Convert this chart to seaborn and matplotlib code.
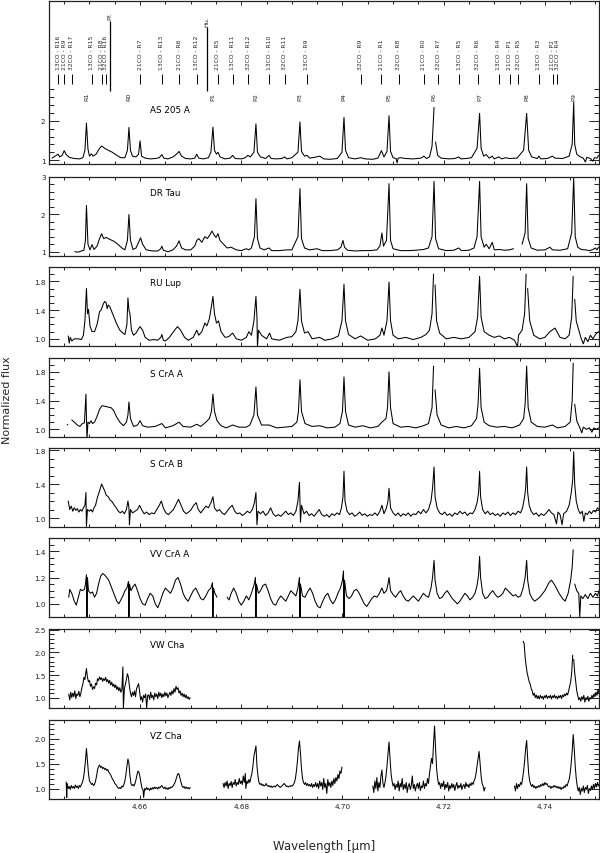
import numpy as np
import pandas as pd
import seaborn as sns
import matplotlib.pyplot as plt
from matplotlib.ticker import FixedLocator, MultipleLocator, FormatStrFormatter

# ---- line identifications (top panel) ----
line_names = ["13CO - R16", "21CO - R9", "32CO - R17", "13CO - R15", "21CO - R8", "32CO - R16",
              "21CO - R7", "13CO - R13", "21CO - R6", "13CO - R12", "21CO - R5", "13CO - R11",
              "32CO - R12", "13CO - R10", "32CO - R11", "13CO - R9", "32CO - R9", "21CO - R1",
              "32CO - R8", "21CO - R0", "32CO - R7", "13CO - R5", "32CO - R6", "13CO - R4",
              "21CO - P1", "32CO - R5", "13CO - R3", "21CO - P2", "32CO - R4"]
line_wl = [4.6438, 4.6450, 4.6465, 4.6504, 4.6524, 4.6532,
           4.6600, 4.6643, 4.6677, 4.6712, 4.6754, 4.6783,
           4.6814, 4.6855, 4.6886, 4.6929, 4.7036, 4.7077,
           4.7111, 4.7161, 4.7189, 4.7231, 4.7267, 4.7309,
           4.7331, 4.7347, 4.7388, 4.7416, 4.7424]
co_names = ["R1", "R0", "P1", "P2", "P3", "P4", "P5", "P6", "P7", "P8", "P9"]
co_wl = [4.6494, 4.6578, 4.6744, 4.6829, 4.6916, 4.7003, 4.7092, 4.7181, 4.7271, 4.7364, 4.7457]
hi_names = ["Pf.", "Hu."]
hi_wl = [4.6541, 4.6732]

# ---- spectra: (wavelength, flux); None marks a gap ----
as205a = [(4.6426, 1.05), (4.6432, 1.10), (4.6438, 1.15), (4.6441, 1.08), (4.6446, 1.12), (4.6450, 1.24),
          (4.6454, 1.14), (4.6460, 1.07), (4.6470, 1.04), (4.6480, 1.03), (4.6487, 1.06), (4.6491, 1.25),
          (4.6494, 1.94), (4.6497, 1.28), (4.6500, 1.10), (4.6504, 1.16), (4.6507, 1.10), (4.6513, 1.15),
          (4.6519, 1.28), (4.6524, 1.36), (4.6530, 1.30), (4.6537, 1.25), (4.6545, 1.20), (4.6553, 1.13),
          (4.6562, 1.06), (4.6570, 1.06), (4.6575, 1.25), (4.6578, 1.83), (4.6581, 1.25), (4.6585, 1.10),
          (4.6592, 1.08), (4.6597, 1.15), (4.6600, 1.49), (4.6603, 1.10), (4.6610, 1.05), (4.6620, 1.03),
          (4.6630, 1.04), (4.6638, 1.06), (4.6643, 1.14), (4.6647, 1.05), (4.6655, 1.03), (4.6665, 1.08),
          (4.6672, 1.15), (4.6677, 1.22), (4.6682, 1.10), (4.6690, 1.04), (4.6700, 1.03), (4.6708, 1.05),
          (4.6712, 1.15), (4.6716, 1.05), (4.6725, 1.03), (4.6735, 1.06), (4.6740, 1.20), (4.6744, 1.84),
          (4.6747, 1.25), (4.6751, 1.15), (4.6754, 1.20), (4.6758, 1.08), (4.6768, 1.03), (4.6778, 1.05),
          (4.6783, 1.12), (4.6788, 1.04), (4.6800, 1.03), (4.6808, 1.06), (4.6813, 1.12), (4.6818, 1.08),
          (4.6825, 1.20), (4.6829, 1.92), (4.6832, 1.20), (4.6838, 1.08), (4.6848, 1.04), (4.6855, 1.12),
          (4.6859, 1.04), (4.6870, 1.03), (4.6880, 1.04), (4.6886, 1.08), (4.6890, 1.03), (4.6900, 1.06),
          (4.6912, 1.20), (4.6916, 1.97), (4.6919, 1.22), (4.6925, 1.10), (4.6930, 1.12), (4.6935, 1.05),
          (4.6945, 1.07), (4.6955, 1.10), (4.6963, 1.03), (4.6975, 1.02), (4.6990, 1.04), (4.6999, 1.20),
          (4.7003, 2.09), (4.7006, 1.25), (4.7012, 1.06), (4.7025, 1.03), (4.7036, 1.06), (4.7045, 1.03),
          (4.7060, 1.02), (4.7070, 1.05), (4.7077, 1.24), (4.7082, 1.08), (4.7088, 1.22), (4.7092, 2.13),
          (4.7095, 1.22), (4.7100, 1.06), (4.7106, 1.04), (4.7108, 0.93), (4.7110, 1.05), (4.7115, 1.06),
          (4.7125, 1.04), (4.7140, 1.03), (4.7155, 1.05), (4.7161, 1.10), (4.7166, 1.04), (4.7172, 1.08),
          (4.7177, 1.35), (4.7181, 2.34), None,
          (4.7184, 1.46), (4.7188, 1.12), (4.7195, 1.05), (4.7210, 1.03), (4.7222, 1.04), (4.7230, 1.08),
          (4.7234, 1.03), (4.7245, 1.04), (4.7255, 1.06), (4.7266, 1.30), (4.7271, 2.19), (4.7274, 1.30),
          (4.7279, 1.10), (4.7284, 1.14), (4.7290, 1.05), (4.7296, 1.10), (4.7300, 1.03), (4.7309, 1.08),
          (4.7315, 1.03), (4.7322, 1.06), (4.7330, 1.04), (4.7345, 1.05), (4.7358, 1.25), (4.7364, 2.19),
          (4.7368, 1.25), (4.7374, 1.08), (4.7385, 1.04), (4.7388, 1.10), (4.7392, 1.03), (4.7405, 1.04),
          (4.7415, 1.10), (4.7420, 1.05), (4.7435, 1.04), (4.7448, 1.10), (4.7454, 1.40), (4.7457, 2.47),
          (4.7459, 1.40), (4.7463, 1.15), (4.7470, 1.08), (4.7476, 1.05), (4.7480, 0.95), (4.7483, 1.07),
          (4.7490, 1.04), (4.7495, 0.97), (4.7498, 1.06), (4.7503, 1.05), (4.7506, 1.12)]

dr_tau = [(4.6471, 1.00), (4.6478, 0.99), (4.6484, 1.02), (4.6489, 1.04), (4.6492, 1.30), (4.6494, 2.23),
          (4.6497, 1.20), (4.6501, 1.05), (4.6505, 1.19), (4.6509, 1.06), (4.6515, 1.15), (4.6520, 1.35),
          (4.6524, 1.48), (4.6528, 1.35), (4.6533, 1.38), (4.6540, 1.33), (4.6548, 1.28), (4.6556, 1.20),
          (4.6564, 1.10), (4.6570, 1.05), (4.6575, 1.30), (4.6578, 1.99), (4.6581, 1.30), (4.6586, 1.06),
          (4.6592, 1.10), (4.6597, 1.25), (4.6601, 1.37), (4.6605, 1.20), (4.6612, 1.05), (4.6625, 1.02),
          (4.6635, 1.02), (4.6641, 1.08), (4.6643, 1.15), (4.6646, 1.04), (4.6655, 1.00), (4.6665, 1.05),
          (4.6672, 1.15), (4.6677, 1.29), (4.6682, 1.10), (4.6690, 1.05), (4.6700, 1.05), (4.6708, 1.15),
          (4.6712, 1.30), (4.6716, 1.35), (4.6722, 1.25), (4.6728, 1.40), (4.6733, 1.35), (4.6738, 1.45),
          (4.6742, 1.55), (4.6746, 1.45), (4.6750, 1.38), (4.6754, 1.48), (4.6758, 1.30), (4.6765, 1.20),
          (4.6772, 1.10), (4.6780, 1.12), (4.6790, 1.05), (4.6800, 1.03), (4.6810, 1.08), (4.6815, 1.05),
          (4.6820, 1.10), (4.6826, 1.40), (4.6829, 2.41), (4.6832, 1.35), (4.6837, 1.10), (4.6845, 1.05),
          (4.6855, 1.10), (4.6860, 1.03), (4.6875, 1.03), (4.6890, 1.05), (4.6900, 1.05), (4.6912, 1.40),
          (4.6916, 2.68), (4.6919, 1.35), (4.6925, 1.10), (4.6935, 1.05), (4.6950, 1.08), (4.6960, 1.03),
          (4.6975, 1.03), (4.6990, 1.05), (4.6997, 1.12), (4.7001, 1.30), (4.7004, 1.12), (4.7010, 1.04),
          (4.7025, 1.02), (4.7040, 1.03), (4.7055, 1.03), (4.7068, 1.05), (4.7074, 1.15), (4.7078, 1.50),
          (4.7081, 1.15), (4.7087, 1.30), (4.7092, 2.81), (4.7095, 1.30), (4.7100, 1.08), (4.7115, 1.03),
          (4.7130, 1.03), (4.7145, 1.04), (4.7160, 1.06), (4.7170, 1.10), (4.7177, 1.40), (4.7181, 2.87),
          (4.7184, 1.35), (4.7190, 1.08), (4.7205, 1.03), (4.7220, 1.04), (4.7230, 1.10), (4.7235, 1.03),
          (4.7250, 1.04), (4.7260, 1.10), (4.7266, 1.40), (4.7271, 2.87), (4.7274, 1.40), (4.7280, 1.12),
          (4.7284, 1.20), (4.7290, 1.08), (4.7296, 1.25), (4.7300, 1.05), (4.7310, 1.06), (4.7320, 1.04),
          (4.7330, 1.05), (4.7338, 1.08), None,
          (4.7355, 1.20), (4.7361, 1.50), (4.7364, 2.81), (4.7367, 1.35), (4.7373, 1.10), (4.7385, 1.04),
          (4.7400, 1.05), (4.7410, 1.12), (4.7415, 1.05), (4.7430, 1.04), (4.7445, 1.08), (4.7453, 1.50),
          (4.7457, 2.97), (4.7460, 1.40), (4.7465, 1.12), (4.7472, 1.06), (4.7480, 1.05), (4.7488, 1.03),
          (4.7495, 1.06), (4.7500, 1.10), (4.7503, 1.05), (4.7506, 1.12)]

ru_lup = [(4.6458, 1.04), (4.6460, 0.94), (4.6462, 1.02), (4.6465, 0.97), (4.6470, 1.00), (4.6478, 1.00),
          (4.6484, 0.99), (4.6488, 1.05), (4.6491, 1.25), (4.6494, 1.70), (4.6496, 1.35), (4.6498, 1.41),
          (4.6501, 1.18), (4.6505, 1.10), (4.6510, 1.10), (4.6515, 1.20), (4.6520, 1.38), (4.6523, 1.40),
          (4.6527, 1.48), (4.6530, 1.52), (4.6533, 1.50), (4.6535, 1.42), (4.6537, 1.47), (4.6540, 1.45),
          (4.6544, 1.38), (4.6548, 1.31), (4.6553, 1.22), (4.6560, 1.12), (4.6566, 1.08), (4.6570, 1.06),
          (4.6574, 1.20), (4.6576, 1.57), (4.6578, 1.40), (4.6580, 1.35), (4.6583, 1.12), (4.6587, 1.05),
          (4.6592, 1.08), (4.6597, 1.14), (4.6600, 1.17), (4.6605, 1.12), (4.6610, 1.02), (4.6618, 0.98),
          (4.6628, 0.99), (4.6635, 0.98), (4.6641, 1.02), (4.6643, 1.06), (4.6646, 0.98), (4.6650, 0.97),
          (4.6658, 1.02), (4.6666, 1.10), (4.6674, 1.17), (4.6680, 1.12), (4.6688, 1.02), (4.6695, 0.98),
          (4.6705, 1.02), (4.6712, 1.12), (4.6716, 1.05), (4.6722, 1.10), (4.6728, 1.22), (4.6732, 1.18),
          (4.6737, 1.28), (4.6741, 1.45), (4.6744, 1.59), (4.6747, 1.35), (4.6751, 1.22), (4.6755, 1.25),
          (4.6760, 1.10), (4.6768, 1.02), (4.6775, 1.03), (4.6783, 1.08), (4.6790, 1.00), (4.6800, 0.98),
          (4.6810, 1.02), (4.6815, 1.10), (4.6820, 1.05), (4.6825, 1.25), (4.6829, 1.59), (4.6831, 1.30),
          (4.6832, 0.89), (4.6834, 1.12), (4.6840, 1.05), (4.6850, 1.00), (4.6856, 1.08), (4.6860, 1.00),
          (4.6875, 0.98), (4.6890, 1.02), (4.6900, 1.03), (4.6908, 1.10), (4.6912, 1.25), (4.6916, 1.69),
          (4.6919, 1.25), (4.6925, 1.08), (4.6932, 1.10), (4.6940, 1.00), (4.6955, 1.02), (4.6965, 0.98),
          (4.6980, 1.00), (4.6992, 1.04), (4.6999, 1.25), (4.7003, 1.76), (4.7006, 1.25), (4.7012, 1.06),
          (4.7025, 1.00), (4.7036, 1.04), (4.7050, 0.98), (4.7065, 1.00), (4.7074, 1.05), (4.7078, 1.15),
          (4.7082, 1.05), (4.7088, 1.25), (4.7092, 1.79), (4.7095, 1.25), (4.7100, 1.05), (4.7110, 1.00),
          (4.7125, 1.02), (4.7140, 0.99), (4.7155, 1.02), (4.7165, 1.06), (4.7172, 1.12), (4.7177, 1.35),
          (4.7180, 1.90), None,
          (4.7183, 1.75), (4.7186, 1.25), (4.7192, 1.08), (4.7205, 1.00), (4.7220, 1.02), (4.7235, 1.00),
          (4.7250, 1.02), (4.7262, 1.10), (4.7267, 1.30), (4.7271, 1.87), (4.7274, 1.30), (4.7280, 1.10),
          (4.7290, 1.05), (4.7300, 1.02), (4.7310, 1.04), (4.7320, 1.00), (4.7330, 1.02), (4.7340, 0.98),
          (4.7346, 0.89), (4.7348, 1.05), (4.7355, 1.12), (4.7360, 1.35), (4.7363, 1.90), None,
          (4.7366, 1.70), (4.7370, 1.25), (4.7378, 1.05), (4.7390, 1.00), (4.7400, 1.02), (4.7410, 1.10),
          (4.7420, 1.15), (4.7430, 1.02), (4.7440, 1.00), (4.7448, 1.05), (4.7453, 1.30), (4.7456, 1.87), None,
          (4.7459, 1.55), (4.7462, 1.25), (4.7467, 1.12), (4.7472, 1.00), (4.7476, 0.93), (4.7480, 1.02),
          (4.7485, 0.96), (4.7490, 1.05), (4.7495, 1.00), (4.7500, 1.06), (4.7506, 1.10)]

s_cra_a = [(4.6456, 1.07), (4.6457, 1.06), None,
           (4.6465, 1.13), (4.6470, 1.10), (4.6476, 1.06), (4.6481, 1.04), (4.6486, 1.08), (4.6490, 1.09),
           (4.6493, 1.49), (4.6495, 0.86), (4.6497, 1.10), (4.6500, 1.08), (4.6503, 1.12), (4.6506, 1.08),
           (4.6510, 1.10), (4.6515, 1.18), (4.6520, 1.28), (4.6525, 1.33), (4.6531, 1.32), (4.6537, 1.31),
           (4.6543, 1.30), (4.6548, 1.26), (4.6553, 1.18), (4.6560, 1.10), (4.6567, 1.05), (4.6573, 1.10),
           (4.6576, 1.20), (4.6578, 1.38), (4.6581, 1.15), (4.6587, 1.04), (4.6595, 1.06), (4.6600, 1.12),
           (4.6605, 1.05), (4.6615, 1.03), (4.6630, 1.04), (4.6643, 1.08), (4.6650, 1.02), (4.6665, 1.05),
           (4.6677, 1.10), (4.6685, 1.04), (4.6700, 1.03), (4.6712, 1.07), (4.6720, 1.04), (4.6730, 1.10),
           (4.6737, 1.15), (4.6741, 1.25), (4.6744, 1.49), (4.6747, 1.25), (4.6752, 1.12), (4.6760, 1.05),
           (4.6770, 1.02), (4.6783, 1.06), (4.6795, 1.03), (4.6810, 1.03), (4.6817, 1.06), (4.6825, 1.20),
           (4.6829, 1.59), (4.6832, 1.20), (4.6840, 1.06), (4.6855, 1.06), (4.6870, 1.02), (4.6885, 1.03),
           (4.6900, 1.04), (4.6910, 1.10), (4.6913, 1.25), (4.6916, 1.69), (4.6919, 1.25), (4.6926, 1.08),
           (4.6940, 1.04), (4.6955, 1.05), (4.6970, 1.02), (4.6985, 1.03), (4.6995, 1.08), (4.7000, 1.25),
           (4.7003, 1.73), (4.7006, 1.25), (4.7012, 1.06), (4.7025, 1.03), (4.7040, 1.05), (4.7055, 1.02),
           (4.7070, 1.04), (4.7078, 1.10), (4.7086, 1.15), (4.7089, 1.30), (4.7092, 1.80), (4.7095, 1.30),
           (4.7100, 1.08), (4.7115, 1.03), (4.7130, 1.04), (4.7145, 1.02), (4.7160, 1.05), (4.7170, 1.08),
           (4.7177, 1.30), (4.7180, 1.88), None,
           (4.7183, 1.55), (4.7187, 1.20), (4.7195, 1.06), (4.7210, 1.02), (4.7225, 1.04), (4.7240, 1.02),
           (4.7255, 1.05), (4.7265, 1.15), (4.7268, 1.35), (4.7271, 1.85), (4.7274, 1.30), (4.7280, 1.10),
           (4.7290, 1.05), (4.7305, 1.03), (4.7320, 1.04), (4.7335, 1.02), (4.7350, 1.06), (4.7358, 1.15),
           (4.7361, 1.35), (4.7364, 1.88), (4.7367, 1.30), (4.7373, 1.10), (4.7385, 1.04), (4.7400, 1.03),
           (4.7415, 1.06), (4.7425, 1.02), (4.7440, 1.04), (4.7450, 1.10), (4.7454, 1.40), (4.7456, 1.92), None,
           (4.7459, 1.35), (4.7463, 1.12), (4.7468, 1.04), (4.7473, 0.95), (4.7476, 1.03), (4.7482, 1.00),
           (4.7488, 1.02), (4.7493, 0.96), (4.7497, 1.02), (4.7502, 1.00), (4.7506, 1.02)]

s_cra_b = [(4.6458, 1.20), (4.6461, 1.10), (4.6464, 1.14), (4.6467, 1.08), (4.6470, 1.12), (4.6473, 1.09),
           (4.6476, 1.11), (4.6479, 1.07), (4.6482, 1.10), (4.6485, 1.08), (4.6488, 1.12), (4.6491, 1.15),
           (4.6493, 1.30), (4.6494, 0.90), (4.6496, 1.10), (4.6500, 1.08), (4.6503, 1.10), (4.6506, 1.07),
           (4.6509, 1.12), (4.6512, 1.15), (4.6516, 1.25), (4.6520, 1.32), (4.6524, 1.40), (4.6527, 1.36),
           (4.6530, 1.32), (4.6533, 1.27), (4.6537, 1.25), (4.6541, 1.21), (4.6545, 1.19), (4.6549, 1.15),
           (4.6553, 1.12), (4.6557, 1.08), (4.6561, 1.06), (4.6565, 1.08), (4.6569, 1.05), (4.6573, 1.10),
           (4.6576, 1.20), (4.6578, 1.12), (4.6579, 0.92), (4.6581, 1.10), (4.6585, 1.06), (4.6590, 1.08),
           (4.6595, 1.10), (4.6599, 1.15), (4.6603, 1.10), (4.6608, 1.05), (4.6613, 1.07), (4.6618, 1.04),
           (4.6623, 1.06), (4.6628, 1.05), (4.6633, 1.10), (4.6638, 1.15), (4.6642, 1.20), (4.6646, 1.12),
           (4.6651, 1.06), (4.6656, 1.04), (4.6661, 1.07), (4.6666, 1.10), (4.6671, 1.16), (4.6676, 1.22),
           (4.6681, 1.15), (4.6686, 1.08), (4.6691, 1.05), (4.6696, 1.07), (4.6701, 1.10), (4.6706, 1.15),
           (4.6711, 1.18), (4.6715, 1.10), (4.6720, 1.06), (4.6725, 1.10), (4.6730, 1.14), (4.6735, 1.12),
           (4.6740, 1.18), (4.6744, 1.25), (4.6747, 1.12), (4.6752, 1.08), (4.6757, 1.10), (4.6762, 1.06),
           (4.6767, 1.04), (4.6772, 1.08), (4.6777, 1.12), (4.6782, 1.15), (4.6787, 1.08), (4.6792, 1.05),
           (4.6797, 1.06), (4.6802, 1.03), (4.6807, 1.05), (4.6812, 1.08), (4.6817, 1.06), (4.6822, 1.10),
           (4.6826, 1.18), (4.6829, 1.30), (4.6831, 0.92), (4.6833, 1.08), (4.6838, 1.05), (4.6843, 1.08),
           (4.6848, 1.03), (4.6853, 1.06), (4.6858, 1.12), (4.6863, 1.05), (4.6868, 1.02), (4.6873, 1.04),
           (4.6878, 1.02), (4.6883, 1.05), (4.6888, 1.08), (4.6893, 1.04), (4.6898, 1.06), (4.6903, 1.03),
           (4.6908, 1.08), (4.6912, 1.20), (4.6915, 1.42), (4.6917, 0.95), (4.6919, 1.15), (4.6924, 1.05),
           (4.6929, 1.08), (4.6934, 1.03), (4.6939, 1.05), (4.6944, 1.02), (4.6949, 1.06), (4.6954, 1.10),
           (4.6959, 1.04), (4.6964, 1.02), (4.6969, 1.04), (4.6974, 1.01), (4.6979, 1.05), (4.6984, 1.03),
           (4.6989, 1.06), (4.6994, 1.04), (4.6998, 1.12), (4.7001, 1.25), (4.7003, 1.55), (4.7005, 1.20),
           (4.7009, 1.08), (4.7014, 1.04), (4.7019, 1.06), (4.7024, 1.02), (4.7029, 1.04), (4.7034, 1.07),
           (4.7039, 1.03), (4.7044, 1.05), (4.7049, 1.02), (4.7054, 1.04), (4.7059, 1.03), (4.7064, 1.06),
           (4.7069, 1.03), (4.7074, 1.08), (4.7078, 1.15), (4.7082, 1.05), (4.7087, 1.12), (4.7090, 1.20),
           (4.7092, 1.35), (4.7095, 1.12), (4.7100, 1.06), (4.7105, 1.03), (4.7110, 1.06), (4.7115, 1.02),
           (4.7120, 1.05), (4.7125, 1.03), (4.7130, 1.06), (4.7135, 1.02), (4.7140, 1.05), (4.7145, 1.04),
           (4.7150, 1.08), (4.7155, 1.05), (4.7160, 1.10), (4.7165, 1.06), (4.7170, 1.10), (4.7175, 1.20),
           (4.7178, 1.35), (4.7181, 1.60), (4.7183, 1.25), (4.7187, 1.12), (4.7192, 1.06), (4.7197, 1.04),
           (4.7202, 1.07), (4.7207, 1.03), (4.7212, 1.05), (4.7217, 1.02), (4.7222, 1.06), (4.7227, 1.04),
           (4.7232, 1.08), (4.7237, 1.05), (4.7242, 1.07), (4.7247, 1.03), (4.7252, 1.06), (4.7257, 1.05),
           (4.7262, 1.10), (4.7266, 1.18), (4.7269, 1.30), (4.7271, 1.55), (4.7273, 1.25), (4.7277, 1.10),
           (4.7282, 1.05), (4.7287, 1.08), (4.7292, 1.04), (4.7297, 1.06), (4.7302, 1.03), (4.7307, 1.05),
           (4.7312, 1.02), (4.7317, 1.06), (4.7322, 1.04), (4.7327, 1.07), (4.7332, 1.03), (4.7337, 1.06),
           (4.7342, 1.04), (4.7347, 1.08), (4.7352, 1.06), (4.7356, 1.12), (4.7360, 1.25), (4.7362, 1.35),
           (4.7364, 1.60), (4.7366, 1.30), (4.7369, 1.15), (4.7373, 1.08), (4.7378, 1.04), (4.7383, 1.06),
           (4.7388, 1.02), (4.7393, 1.05), (4.7398, 1.03), (4.7403, 1.06), (4.7408, 1.10), (4.7413, 1.06),
           (4.7418, 1.04), (4.7423, 0.93), (4.7426, 1.07), (4.7430, 1.04), (4.7434, 0.92), (4.7437, 1.05),
           (4.7443, 1.08), (4.7448, 1.15), (4.7452, 1.29), (4.7455, 1.45), (4.7457, 1.78), (4.7459, 1.40),
           (4.7462, 1.20), (4.7466, 1.10), (4.7470, 1.05), (4.7474, 1.08), (4.7477, 0.96), (4.7480, 1.06),
           (4.7484, 1.04), (4.7488, 1.08), (4.7492, 1.05), (4.7496, 1.09), (4.7500, 1.07), (4.7504, 1.12),
           (4.7507, 1.10)]

vv_cra_a = [(4.6459, 1.05), (4.6461, 1.11), (4.6465, 1.08), (4.6470, 1.02), (4.6474, 0.99), (4.6478, 1.05),
            (4.6482, 1.11), (4.6486, 1.10), (4.6490, 1.11), (4.6492, 1.15), (4.6494, 1.22), (4.6495, 0.90),
            (4.6496, 1.20), (4.6498, 1.10), (4.6502, 1.08), (4.6506, 1.09), (4.6510, 1.05), (4.6514, 1.08),
            (4.6518, 1.15), (4.6522, 1.21), (4.6526, 1.23), (4.6530, 1.22), (4.6534, 1.20), (4.6538, 1.18),
            (4.6542, 1.14), (4.6546, 1.10), (4.6550, 1.06), (4.6554, 1.02), (4.6558, 1.00), (4.6562, 1.03),
            (4.6566, 1.06), (4.6570, 1.10), (4.6574, 1.12), (4.6577, 1.17), (4.6578, 0.90), (4.6579, 1.15),
            (4.6582, 1.10), (4.6586, 1.13), (4.6590, 1.15), (4.6595, 1.10), (4.6600, 1.04), (4.6605, 1.00),
            (4.6610, 0.99), (4.6615, 1.04), (4.6620, 1.08), (4.6625, 1.06), (4.6630, 1.00), (4.6635, 0.97),
            (4.6640, 1.02), (4.6645, 1.08), (4.6650, 1.12), (4.6655, 1.10), (4.6660, 1.08), (4.6665, 1.12),
            (4.6670, 1.18), (4.6675, 1.20), (4.6680, 1.15), (4.6685, 1.08), (4.6690, 1.04), (4.6695, 1.02),
            (4.6700, 1.06), (4.6705, 1.10), (4.6710, 1.12), (4.6715, 1.08), (4.6720, 1.04), (4.6725, 1.03),
            (4.6730, 1.06), (4.6735, 1.10), (4.6740, 1.12), (4.6743, 1.16), (4.6744, 0.90), (4.6745, 1.12),
            (4.6748, 1.08), (4.6752, 1.05), None,
            (4.6772, 1.05), (4.6776, 1.03), (4.6780, 1.08), (4.6785, 1.12), (4.6790, 1.08), (4.6795, 1.02),
            (4.6800, 0.99), (4.6805, 1.02), (4.6810, 1.06), (4.6815, 1.03), (4.6820, 1.08), (4.6825, 1.14),
            (4.6828, 1.20), (4.6829, 0.90), (4.6830, 1.15), (4.6834, 1.08), (4.6838, 1.10), (4.6843, 1.14),
            (4.6848, 1.15), (4.6853, 1.10), (4.6858, 1.04), (4.6863, 1.00), (4.6868, 0.99), (4.6873, 1.03),
            (4.6878, 1.06), (4.6883, 1.04), (4.6888, 1.02), (4.6893, 1.06), (4.6898, 1.10), (4.6903, 1.08),
            (4.6908, 1.06), (4.6912, 1.12), (4.6915, 1.20), (4.6916, 0.90), (4.6917, 1.15), (4.6921, 1.06),
            (4.6926, 1.05), (4.6931, 1.09), (4.6936, 1.12), (4.6941, 1.08), (4.6946, 1.02), (4.6951, 0.98),
            (4.6956, 0.97), (4.6961, 1.02), (4.6966, 1.06), (4.6971, 1.08), (4.6976, 1.03), (4.6981, 1.00),
            (4.6986, 1.03), (4.6991, 1.08), (4.6996, 1.12), (4.7000, 1.18), (4.7002, 1.25), (4.7003, 0.90),
            (4.7004, 1.18), (4.7008, 1.06), (4.7013, 1.04), (4.7018, 1.06), (4.7023, 1.10), (4.7028, 1.11),
            (4.7033, 1.08), (4.7038, 1.04), (4.7043, 1.00), (4.7048, 0.98), (4.7053, 1.01), (4.7058, 1.04),
            (4.7063, 1.06), (4.7068, 1.05), (4.7073, 1.08), (4.7078, 1.12), (4.7082, 1.08), (4.7087, 1.10),
            (4.7090, 1.15), (4.7092, 1.20), (4.7095, 1.10), (4.7100, 1.07), (4.7105, 1.05), (4.7110, 1.08),
            (4.7115, 1.10), (4.7120, 1.06), (4.7125, 1.03), (4.7130, 1.02), (4.7135, 1.04), (4.7140, 1.06),
            (4.7145, 1.04), (4.7150, 1.02), (4.7155, 1.05), (4.7160, 1.08), (4.7165, 1.06), (4.7170, 1.05),
            (4.7175, 1.12), (4.7178, 1.20), (4.7181, 1.33), (4.7183, 1.18), (4.7187, 1.08), (4.7192, 1.04),
            (4.7197, 1.05), (4.7202, 1.08), (4.7207, 1.10), (4.7212, 1.07), (4.7217, 1.04), (4.7222, 1.02),
            (4.7227, 1.00), (4.7232, 1.02), (4.7237, 1.05), (4.7242, 1.08), (4.7247, 1.06), (4.7252, 1.03),
            (4.7257, 1.05), (4.7262, 1.08), (4.7266, 1.14), (4.7269, 1.22), (4.7271, 1.36), (4.7273, 1.20),
            (4.7277, 1.08), (4.7282, 1.04), (4.7287, 1.05), (4.7292, 1.08), (4.7297, 1.10), (4.7302, 1.07),
            (4.7307, 1.05), (4.7312, 1.06), (4.7317, 1.08), (4.7322, 1.12), (4.7327, 1.10), (4.7332, 1.08),
            (4.7337, 1.06), (4.7342, 1.07), (4.7347, 1.05), (4.7352, 1.06), (4.7357, 1.12), (4.7361, 1.20),
            (4.7364, 1.33), (4.7366, 1.18), (4.7370, 1.08), (4.7375, 1.04), (4.7380, 1.02), (4.7390, 1.05),
            (4.7400, 1.10), (4.7408, 1.16), (4.7413, 1.18), (4.7420, 1.14), (4.7428, 1.08), (4.7435, 1.04),
            (4.7440, 1.02), (4.7446, 1.08), (4.7451, 1.18), (4.7454, 1.28), (4.7456, 1.41), None,
            (4.7459, 1.15), (4.7463, 1.10), (4.7467, 1.08), (4.7469, 0.90), (4.7471, 1.06), (4.7475, 1.04),
            (4.7480, 1.07), (4.7485, 1.04), (4.7490, 1.08), (4.7495, 1.05), (4.7500, 1.08), (4.7504, 1.06),
            (4.7507, 1.10)]

vw_cha = [(4.6459, 1.08), (4.6461, 0.95), (4.6463, 1.12), (4.6465, 1.00), (4.6467, 1.10), (4.6469, 1.02),
          (4.6471, 1.15), (4.6473, 0.98), (4.6475, 1.08), (4.6477, 1.05), (4.6479, 1.14), (4.6481, 1.02),
          (4.6483, 1.10), (4.6485, 1.22), (4.6487, 1.30), (4.6489, 1.45), (4.6491, 1.40), (4.6493, 1.58),
          (4.6494, 1.64), (4.6496, 1.45), (4.6498, 1.35), (4.6500, 1.38), (4.6502, 1.25), (4.6504, 1.30),
          (4.6506, 1.18), (4.6508, 1.24), (4.6510, 1.20), (4.6512, 1.32), (4.6514, 1.28), (4.6516, 1.42),
          (4.6518, 1.38), (4.6520, 1.46), (4.6522, 1.40), (4.6524, 1.44), (4.6526, 1.36), (4.6528, 1.42),
          (4.6530, 1.38), (4.6532, 1.45), (4.6534, 1.35), (4.6536, 1.40), (4.6538, 1.32), (4.6540, 1.38),
          (4.6542, 1.28), (4.6544, 1.34), (4.6546, 1.25), (4.6548, 1.30), (4.6550, 1.22), (4.6552, 1.28),
          (4.6554, 1.18), (4.6556, 1.24), (4.6558, 1.15), (4.6560, 1.22), (4.6562, 1.12), (4.6564, 1.18),
          (4.6566, 1.68), (4.6567, 0.77), (4.6569, 1.20), (4.6571, 1.30), (4.6573, 1.40), (4.6575, 1.53),
          (4.6577, 1.45), (4.6579, 1.25), (4.6581, 1.10), (4.6583, 1.02), (4.6585, 1.12), (4.6587, 1.05),
          (4.6589, 1.15), (4.6591, 1.02), (4.6593, 1.20), (4.6595, 1.25), (4.6597, 1.31), (4.6599, 1.15),
          (4.6601, 0.95), (4.6603, 1.02), (4.6605, 0.90), (4.6607, 1.05), (4.6609, 1.00), (4.6611, 1.08),
          (4.6613, 0.77), (4.6615, 1.05), (4.6617, 1.06), (4.6619, 0.96), (4.6621, 1.12), (4.6623, 1.00),
          (4.6625, 1.05), (4.6627, 0.95), (4.6629, 1.10), (4.6631, 1.02), (4.6633, 1.08), (4.6635, 0.98),
          (4.6637, 1.12), (4.6639, 1.03), (4.6641, 1.10), (4.6643, 1.00), (4.6645, 1.08), (4.6647, 1.02),
          (4.6649, 1.12), (4.6651, 1.04), (4.6653, 1.10), (4.6655, 1.00), (4.6657, 1.06), (4.6659, 1.12),
          (4.6661, 1.05), (4.6663, 1.15), (4.6665, 1.08), (4.6667, 1.20), (4.6669, 1.12), (4.6671, 1.25),
          (4.6673, 1.18), (4.6675, 1.22), (4.6677, 1.10), (4.6679, 1.15), (4.6681, 1.05), (4.6683, 1.10),
          (4.6685, 1.02), (4.6687, 1.08), (4.6689, 1.00), (4.6691, 1.06), (4.6693, 0.98), (4.6695, 1.02),
          (4.6697, 0.96), (4.6699, 1.00), None,
          (4.7357, 2.25), (4.7359, 2.20), (4.7361, 1.90), (4.7363, 1.70), (4.7365, 1.55), (4.7367, 1.45),
          (4.7369, 1.35), (4.7371, 1.30), (4.7373, 1.20), (4.7375, 1.15), (4.7377, 1.05), (4.7379, 1.10),
          (4.7381, 1.00), (4.7383, 1.06), (4.7385, 0.98), (4.7387, 1.04), (4.7389, 0.97), (4.7391, 1.05),
          (4.7393, 0.99), (4.7395, 1.03), (4.7397, 0.96), (4.7399, 1.04), (4.7401, 1.00), (4.7403, 1.06),
          (4.7405, 0.98), (4.7407, 1.03), (4.7409, 1.00), (4.7411, 1.05), (4.7413, 0.97), (4.7415, 1.04),
          (4.7417, 1.00), (4.7419, 1.06), (4.7421, 0.99), (4.7423, 1.03), (4.7425, 0.97), (4.7427, 1.04),
          (4.7429, 1.00), (4.7431, 1.05), (4.7433, 0.98), (4.7435, 1.06), (4.7437, 1.02), (4.7439, 1.08),
          (4.7441, 1.04), (4.7443, 1.10), (4.7445, 1.06), (4.7447, 1.15), (4.7449, 1.25), (4.7451, 1.35),
          (4.7453, 1.55), (4.7455, 1.94), None,
          (4.7457, 1.85), (4.7459, 1.55), (4.7461, 1.35), (4.7463, 1.15), (4.7465, 1.05), (4.7467, 0.95),
          (4.7469, 1.00), (4.7471, 0.92), (4.7473, 1.02), (4.7475, 0.96), (4.7477, 1.05), (4.7479, 0.90),
          (4.7481, 1.00), (4.7483, 0.95), (4.7485, 1.03), (4.7487, 0.92), (4.7489, 1.00), (4.7491, 0.97),
          (4.7493, 1.05), (4.7495, 0.99), (4.7497, 1.08), (4.7499, 1.02), (4.7501, 1.12), (4.7503, 1.05),
          (4.7505, 1.18), (4.7507, 1.10)]

vz_cha = [(4.6454, 1.13), (4.6455, 0.82), (4.6456, 1.10), (4.6458, 1.00), (4.6460, 1.04), (4.6462, 0.98),
          (4.6464, 1.06), (4.6466, 1.01), (4.6468, 1.04), (4.6470, 1.00), (4.6472, 1.07), (4.6474, 1.02),
          (4.6476, 1.05), (4.6478, 1.00), (4.6480, 1.06), (4.6482, 1.03), (4.6484, 1.08), (4.6486, 1.12),
          (4.6488, 1.20), (4.6490, 1.35), (4.6492, 1.55), (4.6494, 1.80), (4.6496, 1.55), (4.6498, 1.30),
          (4.6500, 1.15), (4.6502, 1.12), (4.6504, 1.08), (4.6506, 1.10), (4.6508, 1.06), (4.6510, 1.08),
          (4.6512, 1.15), (4.6514, 1.25), (4.6516, 1.38), (4.6518, 1.44), (4.6520, 1.47), (4.6522, 1.42),
          (4.6524, 1.44), (4.6526, 1.40), (4.6528, 1.42), (4.6530, 1.38), (4.6532, 1.40), (4.6534, 1.36),
          (4.6536, 1.38), (4.6538, 1.33), (4.6540, 1.30), (4.6542, 1.27), (4.6544, 1.22), (4.6546, 1.18),
          (4.6548, 1.15), (4.6550, 1.10), (4.6552, 1.08), (4.6554, 1.05), (4.6556, 1.02), (4.6558, 1.00),
          (4.6560, 1.02), (4.6562, 1.00), (4.6564, 1.05), (4.6566, 1.03), (4.6568, 1.08), (4.6570, 1.15),
          (4.6572, 1.28), (4.6574, 1.45), (4.6576, 1.59), (4.6578, 1.50), (4.6580, 1.25), (4.6582, 1.10),
          (4.6584, 1.06), (4.6586, 1.08), (4.6588, 1.05), (4.6590, 1.10), (4.6592, 1.18), (4.6594, 1.28),
          (4.6596, 1.35), (4.6598, 1.32), (4.6600, 1.22), (4.6602, 1.10), (4.6604, 1.00), (4.6606, 0.97),
          (4.6607, 0.82), (4.6609, 1.00), (4.6611, 0.97), (4.6613, 1.02), (4.6615, 0.98), (4.6617, 1.00),
          (4.6619, 0.96), (4.6621, 1.01), (4.6623, 0.98), (4.6625, 1.02), (4.6627, 0.99), (4.6629, 1.03),
          (4.6631, 1.00), (4.6633, 1.02), (4.6635, 0.99), (4.6637, 1.03), (4.6639, 1.01), (4.6641, 1.04),
          (4.6643, 1.06), (4.6645, 1.02), (4.6647, 1.00), (4.6649, 1.03), (4.6651, 0.99), (4.6653, 1.01),
          (4.6655, 0.98), (4.6657, 1.02), (4.6659, 1.00), (4.6661, 1.03), (4.6663, 1.02), (4.6665, 1.05),
          (4.6667, 1.08), (4.6669, 1.12), (4.6671, 1.18), (4.6673, 1.25), (4.6675, 1.30), (4.6677, 1.28),
          (4.6679, 1.20), (4.6681, 1.12), (4.6683, 1.05), (4.6685, 1.02), (4.6687, 1.04), (4.6689, 1.00),
          (4.6691, 1.03), (4.6693, 1.00), (4.6695, 1.02), (4.6697, 0.99), (4.6699, 1.02), None,
          (4.6764, 1.10), (4.6766, 1.02), (4.6768, 1.12), (4.6770, 1.05), (4.6772, 1.15), (4.6774, 1.00),
          (4.6776, 1.10), (4.6778, 1.06), (4.6780, 1.14), (4.6782, 1.02), (4.6784, 1.12), (4.6786, 1.08),
          (4.6788, 1.18), (4.6790, 1.05), (4.6792, 1.12), (4.6794, 1.08), (4.6796, 1.20), (4.6798, 1.10),
          (4.6800, 1.15), (4.6802, 1.08), (4.6804, 1.25), (4.6806, 1.12), (4.6808, 1.30), (4.6809, 1.00),
          (4.6811, 1.15), (4.6813, 1.10), (4.6815, 1.18), (4.6817, 1.12), (4.6819, 1.22), (4.6821, 1.30),
          (4.6823, 1.45), (4.6825, 1.65), (4.6827, 1.75), (4.6829, 1.85), (4.6831, 1.45), (4.6833, 1.25),
          (4.6835, 1.12), (4.6837, 1.08), (4.6839, 1.10), (4.6841, 1.06), (4.6843, 1.08), (4.6845, 1.05),
          (4.6847, 1.06), (4.6849, 1.10), (4.6851, 1.06), (4.6853, 1.04), (4.6855, 1.06), (4.6857, 1.03),
          (4.6859, 1.05), (4.6861, 1.02), (4.6863, 1.04), (4.6865, 1.05), (4.6867, 1.03), (4.6869, 1.05),
          (4.6871, 1.08), (4.6873, 1.06), (4.6875, 1.04), (4.6877, 1.02), (4.6879, 1.04), (4.6881, 1.06),
          (4.6883, 1.08), (4.6885, 1.10), (4.6887, 1.07), (4.6889, 1.04), (4.6891, 1.05), (4.6893, 1.03),
          (4.6895, 1.05), (4.6897, 1.04), (4.6899, 1.06), (4.6901, 1.05), (4.6903, 1.08), (4.6905, 1.12),
          (4.6907, 1.20), (4.6909, 1.35), (4.6911, 1.55), (4.6913, 1.80), (4.6915, 1.95), (4.6917, 1.70),
          (4.6919, 1.40), (4.6921, 1.20), (4.6923, 1.12), (4.6925, 1.08), (4.6927, 1.12), (4.6929, 1.06),
          (4.6931, 1.10), (4.6933, 1.05), (4.6935, 1.08), (4.6937, 1.04), (4.6939, 1.10), (4.6941, 1.02),
          (4.6943, 1.08), (4.6945, 1.04), (4.6947, 1.12), (4.6949, 1.03), (4.6951, 1.10), (4.6953, 1.00),
          (4.6955, 1.15), (4.6957, 1.05), (4.6959, 1.12), (4.6961, 0.98), (4.6963, 1.20), (4.6965, 1.02),
          (4.6967, 1.10), (4.6969, 0.90), (4.6971, 1.18), (4.6973, 1.05), (4.6975, 1.12), (4.6977, 1.02),
          (4.6979, 1.15), (4.6981, 1.06), (4.6983, 1.20), (4.6985, 1.10), (4.6987, 1.22), (4.6989, 1.15),
          (4.6991, 1.28), (4.6993, 1.20), (4.6995, 1.35), (4.6997, 1.30), (4.6999, 1.43), None,
          (4.7060, 1.05), (4.7062, 0.92), (4.7064, 1.15), (4.7066, 1.00), (4.7068, 1.22), (4.7070, 0.95),
          (4.7072, 1.12), (4.7074, 1.02), (4.7076, 1.25), (4.7078, 1.37), (4.7080, 1.10), (4.7082, 1.02),
          (4.7084, 1.12), (4.7086, 1.25), (4.7088, 1.45), (4.7090, 1.70), (4.7092, 1.93), (4.7094, 1.60),
          (4.7096, 1.30), (4.7098, 1.15), (4.7100, 1.05), (4.7102, 1.10), (4.7104, 0.98), (4.7106, 1.08),
          (4.7108, 1.02), (4.7110, 1.15), (4.7112, 0.95), (4.7114, 1.10), (4.7116, 1.03), (4.7118, 1.20),
          (4.7120, 0.98), (4.7122, 1.08), (4.7124, 1.00), (4.7126, 1.12), (4.7128, 0.92), (4.7130, 1.05),
          (4.7132, 1.10), (4.7134, 0.98), (4.7136, 1.06), (4.7138, 1.25), (4.7140, 1.00), (4.7142, 1.08),
          (4.7144, 0.95), (4.7146, 1.05), (4.7148, 1.10), (4.7150, 1.00), (4.7152, 1.12), (4.7154, 0.96),
          (4.7156, 1.05), (4.7158, 1.02), (4.7160, 1.15), (4.7162, 1.00), (4.7164, 1.10), (4.7166, 1.05),
          (4.7168, 1.20), (4.7170, 1.10), (4.7172, 1.30), (4.7174, 1.45), (4.7176, 1.60), (4.7178, 1.50),
          (4.7180, 1.90), (4.7182, 2.25), (4.7184, 1.80), (4.7186, 1.40), (4.7188, 1.20), (4.7190, 1.08),
          (4.7192, 1.12), (4.7194, 1.00), (4.7196, 1.10), (4.7198, 1.04), (4.7200, 1.15), (4.7202, 0.98),
          (4.7204, 1.08), (4.7206, 1.02), (4.7208, 1.12), (4.7210, 0.95), (4.7212, 1.06), (4.7214, 1.00),
          (4.7216, 1.10), (4.7218, 1.02), (4.7220, 1.08), (4.7222, 0.96), (4.7224, 1.05), (4.7226, 1.12),
          (4.7228, 1.00), (4.7230, 1.06), (4.7232, 1.02), (4.7234, 1.10), (4.7236, 0.98), (4.7238, 1.05),
          (4.7240, 1.08), (4.7242, 1.00), (4.7244, 1.12), (4.7246, 1.04), (4.7248, 1.08), (4.7250, 1.02),
          (4.7252, 1.10), (4.7254, 1.06), (4.7256, 1.12), (4.7258, 1.08), (4.7260, 1.15), (4.7262, 1.20),
          (4.7264, 1.30), (4.7266, 1.45), (4.7268, 1.60), (4.7270, 1.74), (4.7272, 1.50), (4.7274, 1.25),
          (4.7276, 1.10), (4.7278, 1.05), (4.7280, 0.95), (4.7282, 1.02), None,
          (4.7340, 1.05), (4.7342, 0.95), (4.7344, 1.10), (4.7346, 1.00), (4.7348, 1.08), (4.7350, 1.04),
          (4.7352, 1.12), (4.7354, 1.08), (4.7356, 1.20), (4.7358, 1.35), (4.7360, 1.55), (4.7362, 1.80),
          (4.7364, 1.96), (4.7366, 1.60), (4.7368, 1.30), (4.7370, 1.15), (4.7372, 1.08), (4.7374, 1.04),
          (4.7376, 1.08), (4.7378, 1.02), (4.7380, 1.05), (4.7382, 1.00), (4.7384, 1.04), (4.7386, 1.02),
          (4.7388, 1.06), (4.7390, 1.03), (4.7392, 1.08), (4.7394, 1.05), (4.7396, 1.10), (4.7398, 1.06),
          (4.7400, 1.12), (4.7402, 1.08), (4.7404, 1.10), (4.7406, 1.05), (4.7408, 1.03), (4.7410, 1.05),
          (4.7412, 1.00), (4.7414, 1.04), (4.7416, 1.02), (4.7418, 1.06), (4.7420, 1.03), (4.7422, 1.05),
          (4.7424, 1.01), (4.7426, 1.04), (4.7428, 1.00), (4.7430, 1.03), (4.7432, 0.98), (4.7434, 1.02),
          (4.7436, 1.00), (4.7438, 1.05), (4.7440, 1.02), (4.7442, 1.08), (4.7444, 1.05), (4.7446, 1.12),
          (4.7448, 1.18), (4.7450, 1.30), (4.7452, 1.50), (4.7454, 1.75), (4.7456, 2.08), (4.7458, 1.80),
          (4.7460, 1.45), (4.7462, 1.20), (4.7464, 1.05), (4.7466, 0.95), (4.7468, 1.02), (4.7470, 0.88),
          (4.7472, 1.00), (4.7474, 0.95), (4.7476, 1.05), (4.7478, 0.92), (4.7480, 1.02), (4.7482, 0.98),
          (4.7484, 1.06), (4.7486, 0.90), (4.7488, 1.00), (4.7490, 0.96), (4.7492, 1.05), (4.7494, 0.98),
          (4.7496, 1.08), (4.7498, 1.00), (4.7500, 1.10), (4.7502, 1.03), (4.7504, 1.12), (4.7506, 1.05)]

star_names = ["AS 205 A", "DR Tau", "RU Lup", "S CrA A", "S CrA B", "VV CrA A", "VW Cha", "VZ Cha"]
spectra = [as205a, dr_tau, ru_lup, s_cra_a, s_cra_b, vv_cra_a, vw_cha, vz_cha]
y_limits = [(0.9, 5.05), (0.9, 3.0), (0.9, 2.0), (0.9, 2.0), (0.9, 1.83), (0.9, 1.5), (0.77, 2.52), (0.8, 2.38)]
y_major = [[1, 2], [1, 2, 3], [1.0, 1.4, 1.8], [1.0, 1.4, 1.8], [1.0, 1.4, 1.8],
           [1.0, 1.2, 1.4], [1.0, 1.5, 2.0, 2.5], [1.0, 1.5, 2.0]]
y_minor = [0.2, 0.2, 0.1, 0.1, 0.1, 0.05, 0.1, 0.1]
y_fmt = ["%d", "%d", "%.1f", "%.1f", "%.1f", "%.1f", "%.1f", "%.1f"]


def to_frame(points):
    rows, seg = [], 0
    for p in points:
        if p is None:
            seg += 1
            continue
        rows.append((p[0], p[1], seg))
    return pd.DataFrame(rows, columns=["wl", "flux", "seg"])


sns.set_theme(style="ticks")
plt.rcParams["font.family"] = ["DejaVu Sans"]
plt.rcParams.update({
    "xtick.direction": "in", "ytick.direction": "in",
    "xtick.top": True, "ytick.right": True,
    "axes.linewidth": 0.9, "axes.edgecolor": "#222222",
    "xtick.major.width": 0.7, "xtick.minor.width": 0.7,
    "ytick.major.width": 0.7, "ytick.minor.width": 0.7,
    "xtick.major.size": 3.2, "xtick.minor.size": 2.4,
    "ytick.major.size": 7.0, "ytick.minor.size": 3.8,
    "xtick.labelsize": 5.2, "ytick.labelsize": 5.2,
    "xtick.major.pad": 3.5, "ytick.major.pad": 2.5,
})

W, H = 600, 854
fig = plt.figure(figsize=(6.0, 8.54), dpi=100)
tops = [2, 177.5, 268, 358.5, 448.5, 539, 630, 720.5]
heights = [163, 79, 79, 79, 79, 79, 79, 79]
left, right = 49, 599

axes = []
for i, (name, pts) in enumerate(zip(star_names, spectra)):
    ax = fig.add_axes([left / W, 1 - (tops[i] + heights[i]) / H, (right - left) / W, heights[i] / H])
    axes.append(ax)
    df = to_frame(pts)
    sns.lineplot(data=df, x="wl", y="flux", units="seg", estimator=None, sort=False,
                 color="black", linewidth=0.75, ax=ax, legend=False)
    ax.set_xlim(4.6420, 4.7507)
    ax.set_ylim(*y_limits[i])
    ax.xaxis.set_major_locator(MultipleLocator(0.02))
    ax.xaxis.set_minor_locator(MultipleLocator(0.005))
    ax.xaxis.set_major_formatter(FormatStrFormatter("%.2f"))
    ax.yaxis.set_major_locator(FixedLocator(y_major[i]))
    lo = y_major[i][0]
    hi = 2.8 if i == 0 else y_limits[i][1]
    minors = [m for m in np.arange(lo, hi + 1e-6, y_minor[i])]
    ax.yaxis.set_minor_locator(FixedLocator(minors))
    ax.yaxis.set_major_formatter(FormatStrFormatter(y_fmt[i]))
    ax.tick_params(which="both", top=True, right=True, colors="#222222")
    ax.set_xlabel("")
    ax.set_ylabel("")
    if i < len(star_names) - 1:
        ax.tick_params(axis="x", labelbottom=False)
    y_txt = 0.337 if i == 0 else 0.80
    ax.text(4.6620, y_txt, name, transform=ax.get_xaxis_transform(), fontsize=6.3,
            ha="left", va="center", color="black")

# line identifications on top panel
top = axes[0]
top.vlines(line_wl, 2.93, 3.19, color="black", linewidth=0.7)
for nm, wl in zip(line_names, line_wl):
    top.text(wl, 3.32, nm, rotation=90, fontsize=4.3, ha="center", va="bottom")
for nm, wl in zip(co_names, co_wl):
    top.text(wl, 2.63, nm, rotation=90, fontsize=4.6, ha="center", va="center")
top.vlines(hi_wl, 2.76, [4.54, 4.38], color="black", linewidth=0.9)
for nm, wl, yy in zip(hi_names, hi_wl, [4.59, 4.42]):
    top.text(wl, yy, nm, rotation=90, fontsize=4.6, ha="center", va="bottom")

fig.text(0.012, 0.532, "Normalized flux", rotation=90, fontsize=8, ha="center", va="center")
fig.text(324 / W, 1 - 847 / H, "Wavelength [μm]", fontsize=8.5, ha="center", va="center")

fig.savefig("out.png", dpi=100)
